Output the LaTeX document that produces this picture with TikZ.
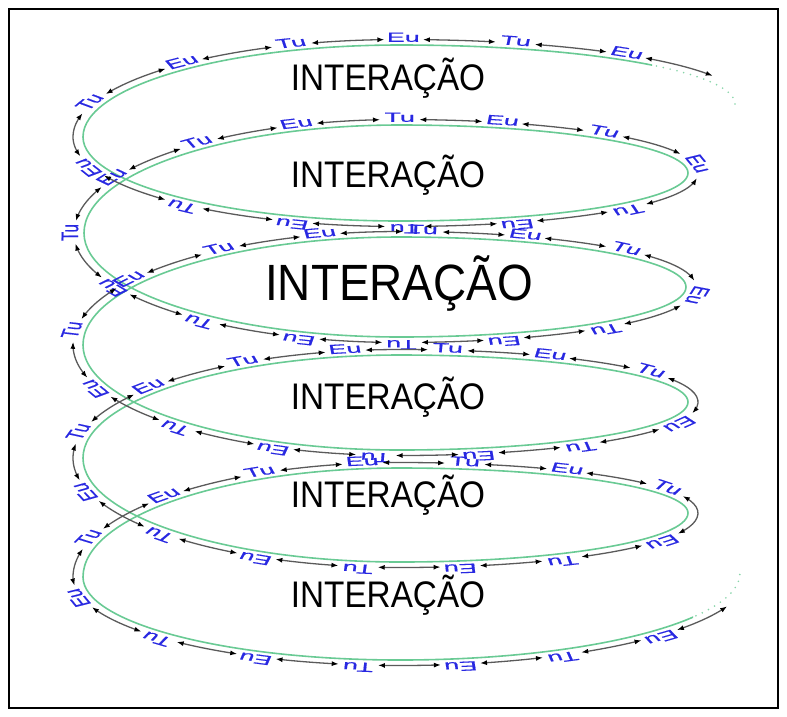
\documentclass[tikz,border=0pt]{standalone}
\usepackage{fontspec}
\setmainfont{Liberation Sans}
\newfontfamily\intfont[FakeStretch=0.9]{Liberation Sans}
\newfontfamily\labfont[FakeStretch=1.12,FakeBold=0.6]{Liberation Sans}
\usetikzlibrary{decorations.markings,arrows.meta}
\definecolor{spgreen}{RGB}{105,202,148}
\definecolor{labblue}{RGB}{40,40,225}
\definecolor{shaftgray}{RGB}{90,90,90}
\newcount\zsampc
\def\zNa{23}
\def\zNb{21}
\def\zKa{11}
\def\zq{30}
\def\zm{4}
\def\zf{1.8}
\def\zs{0.55}
\def\zr{1.0101}
\def\zstep{4.82}
\def\zlast{0}
\def\segA{(735,104) .. controls (735,71.4) and (585,45) .. (400,45)}
\def\segB{.. controls (224.9,45) and (83,86.2) .. (83,137)
 .. controls (83,183.4) and (224.9,221) .. (400,221)
 .. controls (559.1,221) and (688,199.5) .. (688,173)
 .. controls (688,146.5) and (559.1,125) .. (400,125)
 .. controls (225.5,125) and (84,173.4) .. (84,233)
 .. controls (84,290.4) and (225.5,337) .. (400,337)
 .. controls (558,337) and (686,314.6) .. (686,287)
 .. controls (686,259.4) and (558,237) .. (400,237)
 .. controls (224.9,237) and (83,285.4) .. (83,345)
 .. controls (83,403) and (224.9,450) .. (400,450)
 .. controls (559.1,450) and (688,428.5) .. (688,402)
 .. controls (688,376) and (559.1,355) .. (400,355)
 .. controls (224.9,355) and (83,401.1) .. (83,458)
 .. controls (83,515.4) and (224.9,562) .. (400,562)
 .. controls (559.1,562) and (688,540.1) .. (688,513)
 .. controls (688,488.1) and (559.1,468) .. (400,468)
 .. controls (224.9,468) and (83,516.8) .. (83,577)
 .. controls (83,622.8) and (224.9,660) .. (400,660)}
\def\segC{.. controls (587.8,660) and (740,621) .. (740,573)}
\tikzset{
  lab/.style={transform shape, rotate=180, text=labblue, inner sep=0pt,
    font=\labfont\fontsize{24}{24}\selectfont},
  arr/.style={draw=shaftgray, line width=1.3pt, line join=round,
    arrows={Latex[length=7pt,width=5pt,color=black]-Latex[length=7pt,width=5pt,color=black]}},
  spiral/.style={draw=spgreen, line width=1.6pt},
  spdots/.style={draw=spgreen!80, line width=1.8pt, line cap=round, dash pattern=on 0pt off 7pt},
  intx/.style={anchor=base, inner sep=0pt, font=\intfont\fontsize{37}{37}\selectfont},
  intbig/.style={anchor=base, inner sep=0pt, font=\intfont\fontsize{51}{51}\selectfont}
}
% slot k (k>=-1) sits at sample index 1+q+S(k)
\def\zmark{%
  \global\advance\zsampc by 1
  \begingroup
  \edef\zsq{\the\zsampc}%
  \pgfgettransformentries{\zma}{\zmb}{\zmc}{\zmd}{\zmx}{\zmy}%
  \pgfmathsetmacro\zang{atan2(\zmb*\zr,\zma)}%
  \pgfmathsetmacro\zxd{\zmx}%
  \pgfmathsetmacro\zyd{\zmy/\zf}%
  \pgftransformreset
  \pgftransformshift{\pgfpoint{\zxd pt}{\zyd pt}}%
  \pgftransformyscale{\zs}%
  \pgftransformrotate{\zang}%
  \coordinate (c\zsq) at (0pt,-10pt);
  \pgfmathtruncatemacro\zrel{\zsq-1-\zq}%
  \pgfmathtruncatemacro\zok{((\zsq-1)*\zstep < \pgfdecoratedpathlength - 80) ? 1 : 0}%
  \ifnum\zrel<0 \else
   \ifnum\zok=1
    \pgfmathtruncatemacro\zisl{ifthenelse(\zrel<=\zNa*\zKa, mod(\zrel,\zNa)==0, mod(\zrel-\zNa*\zKa,\zNb)==0)}%
    \ifnum\zisl=1
      \pgfmathtruncatemacro\zk{ifthenelse(\zrel<=\zNa*\zKa, \zrel/\zNa, \zKa+(\zrel-\zNa*\zKa)/\zNb)}%
      \ifodd\zk \def\zt{Tu}\else\def\zt{Eu}\fi
      \node[lab] (l\zsq) at (0pt,-14pt) {\zt};
    \fi
   \fi
  \fi
  \endgroup
  \xdef\zlast{\the\zsampc}%
}
\begin{document}
\begin{tikzpicture}[x=1pt,y=-1pt]
\useasboundingbox (0,0) rectangle (787,716);
% green spiral
\begin{scope}
  \clip (0,0) rectangle (652,150);
  \path[spiral] \segA;
\end{scope}
\begin{scope}
  \clip (652,0) rectangle (787,150);
  \path[spdots] \segA;
\end{scope}
\path[spiral] (400,45) \segB;
\begin{scope}
  \clip (0,540) rectangle (693,716);
  \path[spiral] (400,660) \segC;
\end{scope}
\begin{scope}
  \clip (693,540) rectangle (787,716);
  \path[spdots] (400,660) \segC;
\end{scope}
% labels and sample points along the (unsquashed) path
\begin{scope}[y=-\zf pt]
  \global\zsampc=0
  \path[decoration={markings, mark=between positions 0 and 1 step \zstep pt with {\zmark}}, decorate]
    \segA \segB \segC;
\end{scope}
% arrows between labels
\pgfmathtruncatemacro\zslots{(\zlast-1-\zq-\zNa*\zKa)/\zNb+\zKa+1}
\foreach \k in {-1,...,\zslots}{
  \pgfmathtruncatemacro\zsa{1+\zq+ifthenelse(\k<=\zKa, \zNa*(\k), \zNa*\zKa+\zNb*(\k-\zKa))}
  \pgfmathtruncatemacro\zsb{1+\zq+ifthenelse(\k+1<=\zKa, \zNa*(\k+1), \zNa*\zKa+\zNb*(\k+1-\zKa))}
  \pgfmathtruncatemacro\zja{max(\zsa+\zm,9)}
  \pgfmathtruncatemacro\zjb{min(\zsb-\zm,\zlast-10)}
  \pgfmathtruncatemacro\zjc{\zja+1}
  \ifnum\zjb>\zjc
    \draw[arr] (c\zja) \foreach \j in {\zjc,...,\zjb}{ -- (c\j)};
  \fi
}
% central texts
\node[intx] (i1) at (388,90) {INTERAÇÃO};
\node[intx] (i2) at (388,187) {INTERAÇÃO};
\node[intbig] (i3) at (399,300) {INTERAÇÃO};
\node[intx] (i4) at (388,409) {INTERAÇÃO};
\node[intx] (i5) at (388,507) {INTERAÇÃO};
\node[intx] (i6) at (388,607) {INTERAÇÃO};
% frame
\draw[line width=2pt] (9,9) rectangle (778,708);
\end{tikzpicture}
\end{document}
